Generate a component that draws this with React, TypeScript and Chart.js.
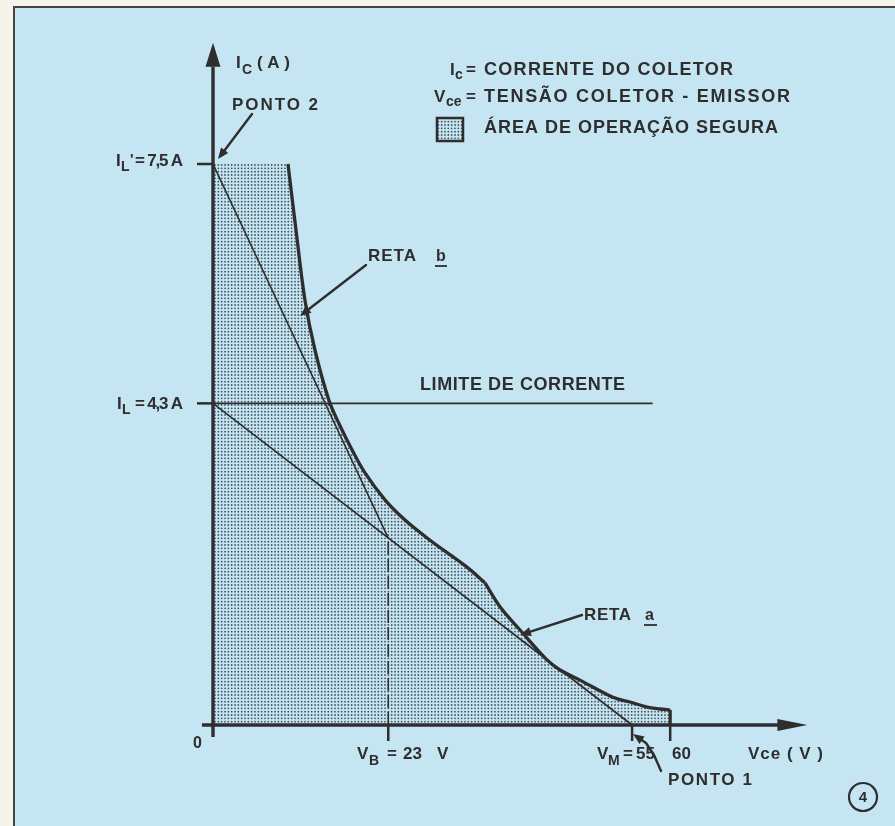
import React, { useEffect, useRef } from "react";
import { Chart, registerables } from "chart.js";

Chart.register(...registerables);

const W = 895;
const H = 826;

// ---- data (Vce in volts, Ic in amperes) ----
const soaVce = [0, 9.84, 10.89, 12.07, 13.39, 15.22, 16.67, 18.24, 19.95, 22.57, 25.2, 28.48, 33.33, 35.7, 37.66, 40.29, 43.83, 45.54, 48.16, 52.49, 54.72, 56.96, 58.66, 60];
const soaIc = [7.5, 7.5, 6.62, 5.68, 5.01, 4.34, 4.0, 3.68, 3.37, 3.01, 2.74, 2.47, 2.11, 1.9, 1.58, 1.27, 0.87, 0.735, 0.6, 0.37, 0.307, 0.24, 0.214, 0.2];
const SOA_KNEE = 13; // index of the knee of the curve
const soaEdgeVce = [60, 60];
const soaEdgeIc = [0.2, 0];
const retaAVce = [0, 55];
const retaAIc = [4.3, 0];
const retaBVce = [0, 23];
const retaBIc = [7.5, 2.5];
const limiteVce = [0, 57.7];
const limiteIc = [4.3, 4.3];
const vbLineVce = [23, 23];
const vbLineIc = [0, 2.5];
const xAxisVce = [-1.45, 74.5];
const xAxisIc = [0, 0];
const yAxisVce = [0, 0];
const yAxisIc = [-0.16, 8.8];
const xArrowTip = 78;
const yArrowTip = 9.12;
const xTickValues = [23, 55, 60];
const yTickValues = [7.5, 4.3];

// scale ranges chosen so origin sits where the figure puts it
const X_MIN = -213 / 7.62;
const X_MAX = X_MIN + W / 7.62;
const Y_MAX = 725 / 74.8;
const Y_MIN = Y_MAX - H / 74.8;

const INK = "#2e2e2e";
const FONT = '"Liberation Sans", Arial, sans-serif';

const pts = (xs: number[], ys: number[]) => xs.map((x, i) => ({ x, y: ys[i] }));

function makePattern(ctx: CanvasRenderingContext2D) {
  const c = document.createElement("canvas");
  c.width = 10;
  c.height = 10;
  const g = c.getContext("2d")!;
  g.fillStyle = "rgba(35,50,60,0.8)";
  for (let i = 0; i < 3; i++) {
    for (let j = 0; j < 3; j++) {
      g.beginPath();
      g.arc(1.67 + i * 3.33, 1.67 + j * 3.33, 0.9, 0, Math.PI * 2);
      g.fill();
    }
  }
  return ctx.createPattern(c, "repeat")!;
}

function setFont(ctx: CanvasRenderingContext2D, size: number) {
  ctx.font = `bold ${size}px ${FONT}`;
}

function fitText(ctx: CanvasRenderingContext2D, text: string, x: number, y: number, width: number, size = 17) {
  setFont(ctx, size);
  (ctx as any).letterSpacing = "0px";
  const w0 = ctx.measureText(text).width;
  const n = Array.from(text).length;
  const ls = n > 1 ? (width - w0) / (n - 1) : 0;
  (ctx as any).letterSpacing = `${ls}px`;
  ctx.textAlign = "left";
  ctx.fillText(text, x, y);
  (ctx as any).letterSpacing = "0px";
}

function plain(ctx: CanvasRenderingContext2D, text: string, x: number, y: number, size = 17) {
  setFont(ctx, size);
  (ctx as any).letterSpacing = "0px";
  ctx.textAlign = "left";
  ctx.fillText(text, x, y);
}

function arrow(ctx: CanvasRenderingContext2D, path: number[][], headLen = 11, headW = 4.5, lw = 2.4) {
  ctx.save();
  ctx.strokeStyle = INK;
  ctx.fillStyle = INK;
  ctx.lineWidth = lw;
  ctx.lineCap = "round";
  ctx.lineJoin = "round";
  const [tx, ty] = path[path.length - 1];
  const [px, py] = path[path.length - 2];
  const ang = Math.atan2(ty - py, tx - px);
  const bx = tx - Math.cos(ang) * headLen;
  const by = ty - Math.sin(ang) * headLen;
  ctx.beginPath();
  ctx.moveTo(path[0][0], path[0][1]);
  for (let i = 1; i < path.length - 1; i++) ctx.lineTo(path[i][0], path[i][1]);
  ctx.lineTo(bx, by);
  ctx.stroke();
  ctx.beginPath();
  ctx.moveTo(tx, ty);
  ctx.lineTo(bx + Math.sin(ang) * headW, by - Math.cos(ang) * headW);
  ctx.lineTo(bx - Math.sin(ang) * headW, by + Math.cos(ang) * headW);
  ctx.closePath();
  ctx.fill();
  ctx.restore();
}

export default function App() {
  const ref = useRef<HTMLCanvasElement>(null);

  useEffect(() => {
    const canvas = ref.current!;
    const ctx = canvas.getContext("2d")!;
    const pattern = makePattern(ctx);

    const decor = {
      id: "decor",
      beforeDraw(chart: any) {
        const c = chart.ctx as CanvasRenderingContext2D;
        c.save();
        c.fillStyle = "#f6f4e9";
        c.fillRect(0, 0, W, H);
        c.fillStyle = "#c6e5f2";
        c.fillRect(14, 7, W - 14, H - 7);
        c.strokeStyle = "#444";
        c.lineWidth = 2;
        c.beginPath();
        c.moveTo(14, H);
        c.lineTo(14, 7);
        c.lineTo(W, 7);
        c.stroke();
        c.restore();
      },
      afterDatasetsDraw(chart: any) {
        const c = chart.ctx as CanvasRenderingContext2D;
        const sx = chart.scales.x;
        const sy = chart.scales.y;
        const X = (v: number) => sx.getPixelForValue(v);
        const Y = (v: number) => sy.getPixelForValue(v);
        c.save();
        c.fillStyle = INK;
        c.strokeStyle = INK;

        // arrowheads of the axes
        c.beginPath();
        c.moveTo(X(xArrowTip), Y(0));
        c.lineTo(X(xArrowTip) - 30, Y(0) - 6);
        c.lineTo(X(xArrowTip) - 30, Y(0) + 6);
        c.closePath();
        c.fill();
        c.beginPath();
        c.moveTo(X(0), Y(yArrowTip));
        c.lineTo(X(0) - 7.5, Y(yArrowTip) + 24);
        c.lineTo(X(0) + 7.5, Y(yArrowTip) + 24);
        c.closePath();
        c.fill();

        // ticks
        c.lineWidth = 2.5;
        xTickValues.forEach((v) => {
          c.beginPath();
          c.moveTo(X(v), Y(0));
          c.lineTo(X(v), Y(0) + 16);
          c.stroke();
        });
        yTickValues.forEach((v) => {
          c.beginPath();
          c.moveTo(X(0) - 16, Y(v));
          c.lineTo(X(0), Y(v));
          c.stroke();
        });

        // axis labels
        plain(c, "I", 236, 68, 17);
        plain(c, "C", 242, 74, 14);
        fitText(c, "(A)", 257, 68, 33, 17);
        fitText(c, "Vce ( V )", 748, 759, 75, 17);

        // y tick labels
        plain(c, "I", 116, 166, 17);
        plain(c, "L", 121, 171, 14);
        plain(c, "'", 130, 164, 15);
        fitText(c, "= 7,5 A", 135, 166, 48, 17);
        plain(c, "I", 117, 409, 17);
        plain(c, "L", 122, 414, 14);
        fitText(c, "= 4,3 A", 135, 409, 48, 17);

        // x tick labels
        plain(c, "0", 193, 748, 16);
        plain(c, "V", 357, 759, 17);
        plain(c, "B", 369, 765, 14);
        plain(c, "=", 387, 759, 17);
        plain(c, "23", 403, 759, 17);
        plain(c, "V", 437, 759, 17);
        plain(c, "V", 597, 759, 17);
        plain(c, "M", 608, 765, 14);
        plain(c, "=", 623, 759, 17);
        plain(c, "55", 636, 759, 17);
        plain(c, "60", 672, 759, 17);

        // legend
        plain(c, "I", 450, 75, 17);
        plain(c, "c", 455, 79, 14);
        plain(c, "=", 466, 75, 17);
        fitText(c, "CORRENTE DO COLETOR", 484, 75, 249, 18);
        plain(c, "V", 434, 102, 17);
        plain(c, "ce", 446, 106, 14);
        plain(c, "=", 466, 102, 17);
        fitText(c, "TENSÃO COLETOR - EMISSOR", 484, 102, 306, 18);
        c.fillStyle = pattern;
        c.fillRect(437, 118, 26, 23);
        c.lineWidth = 2.5;
        c.strokeRect(437, 118, 26, 23);
        c.fillStyle = INK;
        fitText(c, "ÁREA DE OPERAÇÃO SEGURA", 484, 133, 294, 18);

        // annotations
        fitText(c, "PONTO 2", 232, 110, 86, 17);
        arrow(c, [
          [252, 114],
          [X(0) + 5, Y(7.5) - 5],
        ]);
        fitText(c, "RETA", 368, 261, 48, 17);
        plain(c, "b", 436, 261, 16);
        c.lineWidth = 1.8;
        c.beginPath();
        c.moveTo(435, 266);
        c.lineTo(447, 266);
        c.stroke();
        arrow(c, [
          [366, 265],
          [300, 316],
        ]);
        fitText(c, "LIMITE DE CORRENTE", 420, 390, 205, 18);
        fitText(c, "RETA", 584, 620, 47, 17);
        plain(c, "a", 645, 620, 16);
        c.lineWidth = 1.8;
        c.beginPath();
        c.moveTo(644, 625);
        c.lineTo(657, 625);
        c.stroke();
        arrow(c, [
          [582, 615],
          [520, 635],
        ]);
        fitText(c, "PONTO 1", 668, 785, 84, 17);
        arrow(c, [
          [661, 771],
          [654, 755],
          [646, 743],
          [633, 734],
        ]);

        // figure number
        c.lineWidth = 2.2;
        c.beginPath();
        c.arc(863, 797, 14, 0, Math.PI * 2);
        c.stroke();
        c.textAlign = "center";
        setFont(c, 15);
        c.fillText("4", 863, 802);
        c.restore();
      },
    };

    const line = (data: any[], extra: any = {}) => ({
      data,
      showLine: true,
      borderColor: INK,
      borderWidth: 1.6,
      pointRadius: 0,
      fill: false,
      tension: 0,
      ...extra,
    });

    const soaAll = pts(soaVce, soaIc);

    const chart = new Chart(ctx, {
      type: "scatter",
      data: {
        datasets: [
          line(pts(xAxisVce, xAxisIc), { borderWidth: 3.4 }),
          line(pts(yAxisVce, yAxisIc), { borderWidth: 3.4 }),
          line(pts(retaAVce, retaAIc), { borderWidth: 1.7 }),
          line(pts(retaBVce, retaBIc), { borderWidth: 1.7 }),
          line(pts(limiteVce, limiteIc), { borderWidth: 1.9 }),
          line(pts(vbLineVce, vbLineIc), { borderWidth: 1.6, borderDash: [13, 4] }),
          line(pts(soaEdgeVce, soaEdgeIc), { borderWidth: 3.2 }),
          // curve strokes (upper part and lower part, joined at the knee)
          line(soaAll.slice(1, SOA_KNEE + 1), { borderWidth: 3.3, tension: 0.35 }),
          line(soaAll.slice(SOA_KNEE), { borderWidth: 3.3, tension: 0.35 }),
          // safe operating area fill
          line(soaAll, {
            borderWidth: 0,
            borderColor: "rgba(0,0,0,0)",
            fill: "origin",
            backgroundColor: pattern,
          }),
        ] as any,
      },
      options: {
        responsive: false,
        animation: false,
        devicePixelRatio: 1,
        layout: { padding: 0 },
        plugins: { legend: { display: false }, tooltip: { enabled: false } },
        scales: {
          x: { type: "linear", display: false, min: X_MIN, max: X_MAX },
          y: { type: "linear", display: false, min: Y_MIN, max: Y_MAX },
        },
      } as any,
      plugins: [decor],
    });
    return () => chart.destroy();
  }, []);

  return (
    <div style={{ position: "fixed", left: 0, top: 0, width: W, height: H }}>
      <canvas ref={ref} width={W} height={H} style={{ width: W, height: H, display: "block" }} />
    </div>
  );
}
